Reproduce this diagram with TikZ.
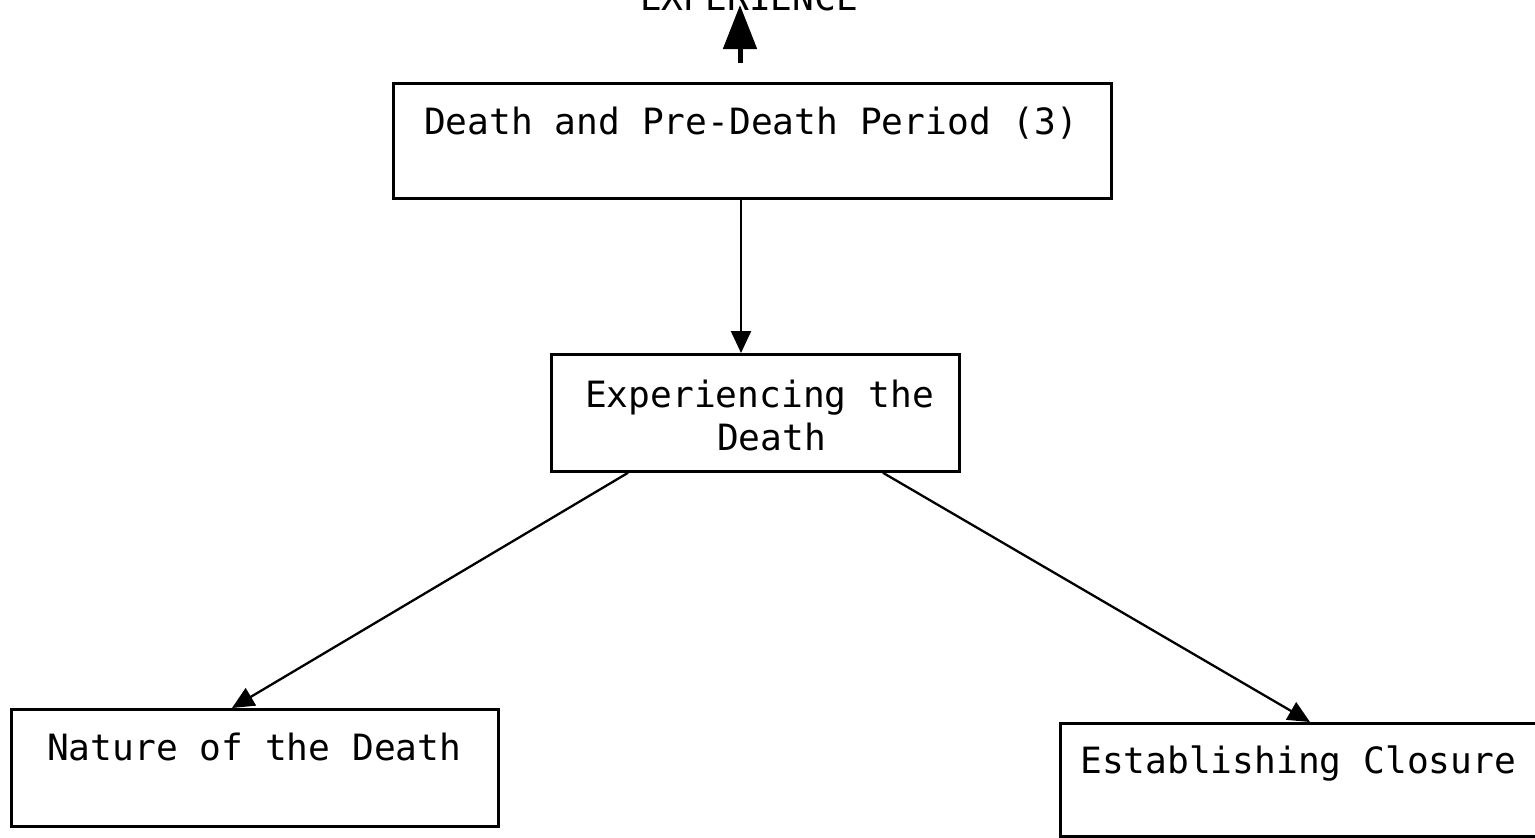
\documentclass[tikz,border=0pt]{standalone}
\usepackage{fontspec}
\newfontfamily\boxfont{DejaVu Sans Mono}
\usetikzlibrary{arrows.meta}
\begin{document}
\begin{tikzpicture}[x=1pt,y=-1pt,
  box/.style={draw, line width=2.8pt, inner sep=0pt, anchor=north west},
  lbl/.style={anchor=base west, inner sep=0pt, font=\boxfont\fontsize{36.2}{43}\selectfont},
  link/.style={line width=2.3pt, -{Triangle[length=22pt,width=20pt]}},
  biglink/.style={line width=5pt, -{Triangle[length=44pt,width=33pt]}}]
\useasboundingbox (0,0) rectangle (1535,838);
\fill[white] (0,0) rectangle (1535,838);

% boxes
\node[box, minimum width=718pt, minimum height=115pt] (period) at (392,82) {};
\node[box, minimum width=408pt, minimum height=117pt] (exp) at (550,353) {};
\node[box, minimum width=487pt, minimum height=117pt] (nature) at (10,708) {};
\node[box, minimum width=520pt, minimum height=113pt] (closure) at (1059,722) {};

% labels
\node[lbl] (tExperience) at (640,10) {EXPERIENCE};
\node[lbl] (tPeriod) at (424,134) {Death and Pre-Death Period (3)};
\node[lbl] (tExp1) at (585,407) {Experiencing the};
\node[lbl] (tExp2) at (717,450) {Death};
\node[lbl] (tNature) at (47,760) {Nature of the Death};
\node[lbl] (tClosure) at (1080,773) {Establishing Closure};

% connectors
\coordinate (up) at (740,63);
\coordinate (upTip) at (740,5);
\draw[biglink] (up) -- (upTip);
\draw[link] ([xshift=349pt]period.south west) -- ([xshift=191pt]exp.north west);
\draw[link] ([xshift=78pt]exp.south west) -- ([xshift=222pt]nature.north west);
\draw[link] ([xshift=333pt]exp.south west) -- ([xshift=251pt]closure.north west);
\end{tikzpicture}
\end{document}
